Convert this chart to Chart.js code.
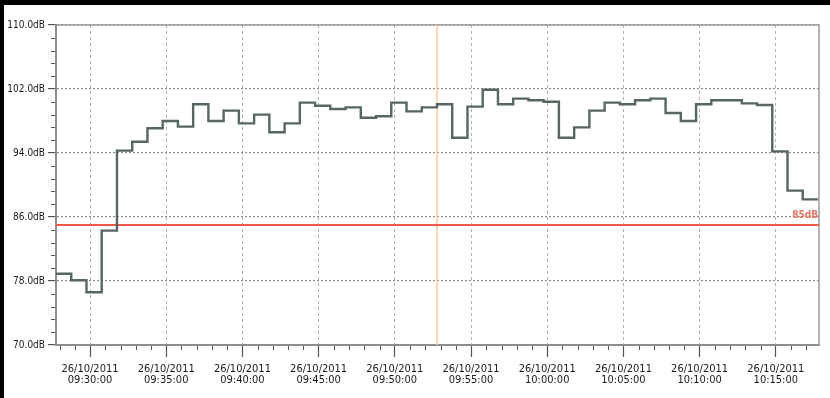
<!DOCTYPE html>
<html>
<head>
<meta charset="utf-8">
<script src="https://cdn.jsdelivr.net/npm/chart.js@4/dist/chart.umd.min.js"></script>
<style>
  html, body { margin: 0; padding: 0; background: #000; width: 830px; height: 398px; overflow: hidden; }
  #wrap { position: absolute; left: 4px; top: 5px; width: 826px; height: 393px; background: #fff; }
  canvas { display: block; }
</style>
</head>
<body>
<div id="wrap"><canvas id="chart" width="826" height="393"></canvas></div>
<script>
// Sound level log, 26/10/2011 — one reading per minute (dB)
const logDate = '26/10/2011';
const firstSample = '09:27:46';
const sampleStepSec = 60;
const levels = [
  78.9, 78.1, 76.6, 84.3, 94.3, 95.4, 97.1, 98.0, 97.3, 100.1,
  98.0, 99.3, 97.7, 98.8, 96.6, 97.7, 100.3, 99.9, 99.5, 99.7,
  98.4, 98.6, 100.3, 99.2, 99.7, 100.1, 95.9, 99.8, 101.9, 100.1,
  100.8, 100.6, 100.4, 95.9, 97.2, 99.3, 100.3, 100.1, 100.6, 100.8,
  99.0, 98.0, 100.1, 100.6, 100.6, 100.2, 100.0, 94.2, 89.3, 88.2
];
const axisStart = '09:27:46';
const axisEnd = '10:17:50';
const majorTimes = ['09:30:00','09:35:00','09:40:00','09:45:00','09:50:00',
                    '09:55:00','10:00:00','10:05:00','10:10:00','10:15:00'];
const yTicks = [70, 78, 86, 94, 102, 110];
const limitLevel = 85;
const limitText = '85dB';
const cursorTime = '09:52:46';

const toSec = s => { const [h, m, x] = s.split(':').map(Number); return h * 3600 + m * 60 + x; };
const pad = n => String(n).padStart(2, '0');
const fmtTime = v => pad(Math.floor(v / 3600)) + ':' + pad(Math.floor(v % 3600 / 60)) + ':' + pad(v % 60);

const t0 = toSec(firstSample);
const xMin = toSec(axisStart), xMax = toSec(axisEnd);
const levelPoints = levels.map((v, i) => ({ x: t0 + i * sampleStepSec, y: v }));
// hold the last reading to the end of its interval
levelPoints.push({ x: t0 + levels.length * sampleStepSec, y: levels[levels.length - 1] });

const FONT = "'Liberation Sans Narrow', 'DejaVu Sans Condensed', 'Liberation Sans', sans-serif";

// minor tick marks, frame and limit label
const decor = {
  id: 'decor',
  beforeDatasetsDraw(chart) {
    const { ctx, chartArea: a } = chart;
    ctx.save();
    ctx.strokeStyle = '#9a9a9a';
    ctx.lineWidth = 1.5;
    ctx.beginPath();
    ctx.moveTo(a.left, a.top); ctx.lineTo(a.right, a.top); ctx.lineTo(a.right, a.bottom);
    ctx.stroke();
    ctx.restore();
  },
  afterDraw(chart) {
    const { ctx, chartArea: a, scales: { x, y } } = chart;
    ctx.save();
    ctx.strokeStyle = '#555';
    ctx.lineWidth = 1;
    ctx.beginPath();
    for (let t = Math.ceil(xMin / 60) * 60; t <= xMax; t += 60) {
      if (t % 300 === 0) continue;
      const px = Math.round(x.getPixelForValue(t)) + 0.5;
      ctx.moveTo(px, a.bottom + 1); ctx.lineTo(px, a.bottom + 5);
    }
    for (let k = 0; k < yTicks.length - 1; k++) {
      for (let j = 1; j < 5; j++) {
        const v = yTicks[k] + j * (yTicks[k + 1] - yTicks[k]) / 5;
        const py = Math.round(y.getPixelForValue(v)) + 0.5;
        ctx.moveTo(a.left - 5, py); ctx.lineTo(a.left - 1, py);
      }
    }
    ctx.stroke();
    ctx.fillStyle = '#e8735f';
    ctx.font = 'bold 10px ' + FONT;
    ctx.textAlign = 'right';
    ctx.textBaseline = 'bottom';
    ctx.fillText(limitText, a.right - 1, y.getPixelForValue(limitLevel) - 5);
    ctx.restore();
  }
};

new Chart(document.getElementById('chart'), {
  type: 'line',
  data: {
    datasets: [
      {
        data: levelPoints,
        stepped: 'before',
        borderColor: '#566663',
        borderWidth: 2.4,
        pointRadius: 0,
        order: 0
      },
      {
        data: [{ x: xMin, y: limitLevel }, { x: xMax, y: limitLevel }],
        borderColor: '#ee5a48',
        borderWidth: 1.8,
        pointRadius: 0,
        order: 1
      },
      {
        data: [{ x: toSec(cursorTime), y: yTicks[0] }, { x: toSec(cursorTime), y: yTicks[yTicks.length - 1] }],
        borderColor: '#f6cf94',
        borderWidth: 1.5,
        pointRadius: 0,
        order: 2
      }
    ]
  },
  options: {
    responsive: false,
    animation: false,
    layout: { padding: { top: 20, right: 11, left: 0, bottom: 0 } },
    plugins: { legend: { display: false }, tooltip: { enabled: false } },
    scales: {
      x: {
        type: 'linear',
        min: xMin,
        max: xMax,
        afterBuildTicks(scale) { scale.ticks = majorTimes.map(s => ({ value: toSec(s) })); },
        afterFit(scale) { scale.height = 53; },
        grid: {
          color: '#b0b0b0',
          lineWidth: 1,
          tickColor: '#555',
          tickLength: 12,
          tickWidth: 1.2
        },
        border: { display: true, color: '#8c8c8c', width: 2, dash: [3, 3] },
        ticks: {
          autoSkip: false,
          maxRotation: 0,
          padding: 7,
          color: '#1a1a1a',
          font: { family: FONT, size: 11, lineHeight: 1.0 },
          callback: v => [logDate, fmtTime(v)]
        }
      },
      y: {
        min: yTicks[0],
        max: yTicks[yTicks.length - 1],
        afterBuildTicks(scale) { scale.ticks = yTicks.map(v => ({ value: v })); },
        afterFit(scale) { scale.width = 52; },
        grid: {
          color: '#8e8e8e',
          lineWidth: 1.2,
          tickColor: '#555',
          tickLength: 8,
          tickWidth: 1.2
        },
        border: { display: true, color: '#8c8c8c', width: 2, dash: [2, 2] },
        ticks: {
          padding: 3,
          color: '#1a1a1a',
          font: { family: FONT, size: 10 },
          callback: v => v.toFixed(1) + 'dB'
        }
      }
    }
  },
  plugins: [decor]
});
</script>
</body>
</html>
